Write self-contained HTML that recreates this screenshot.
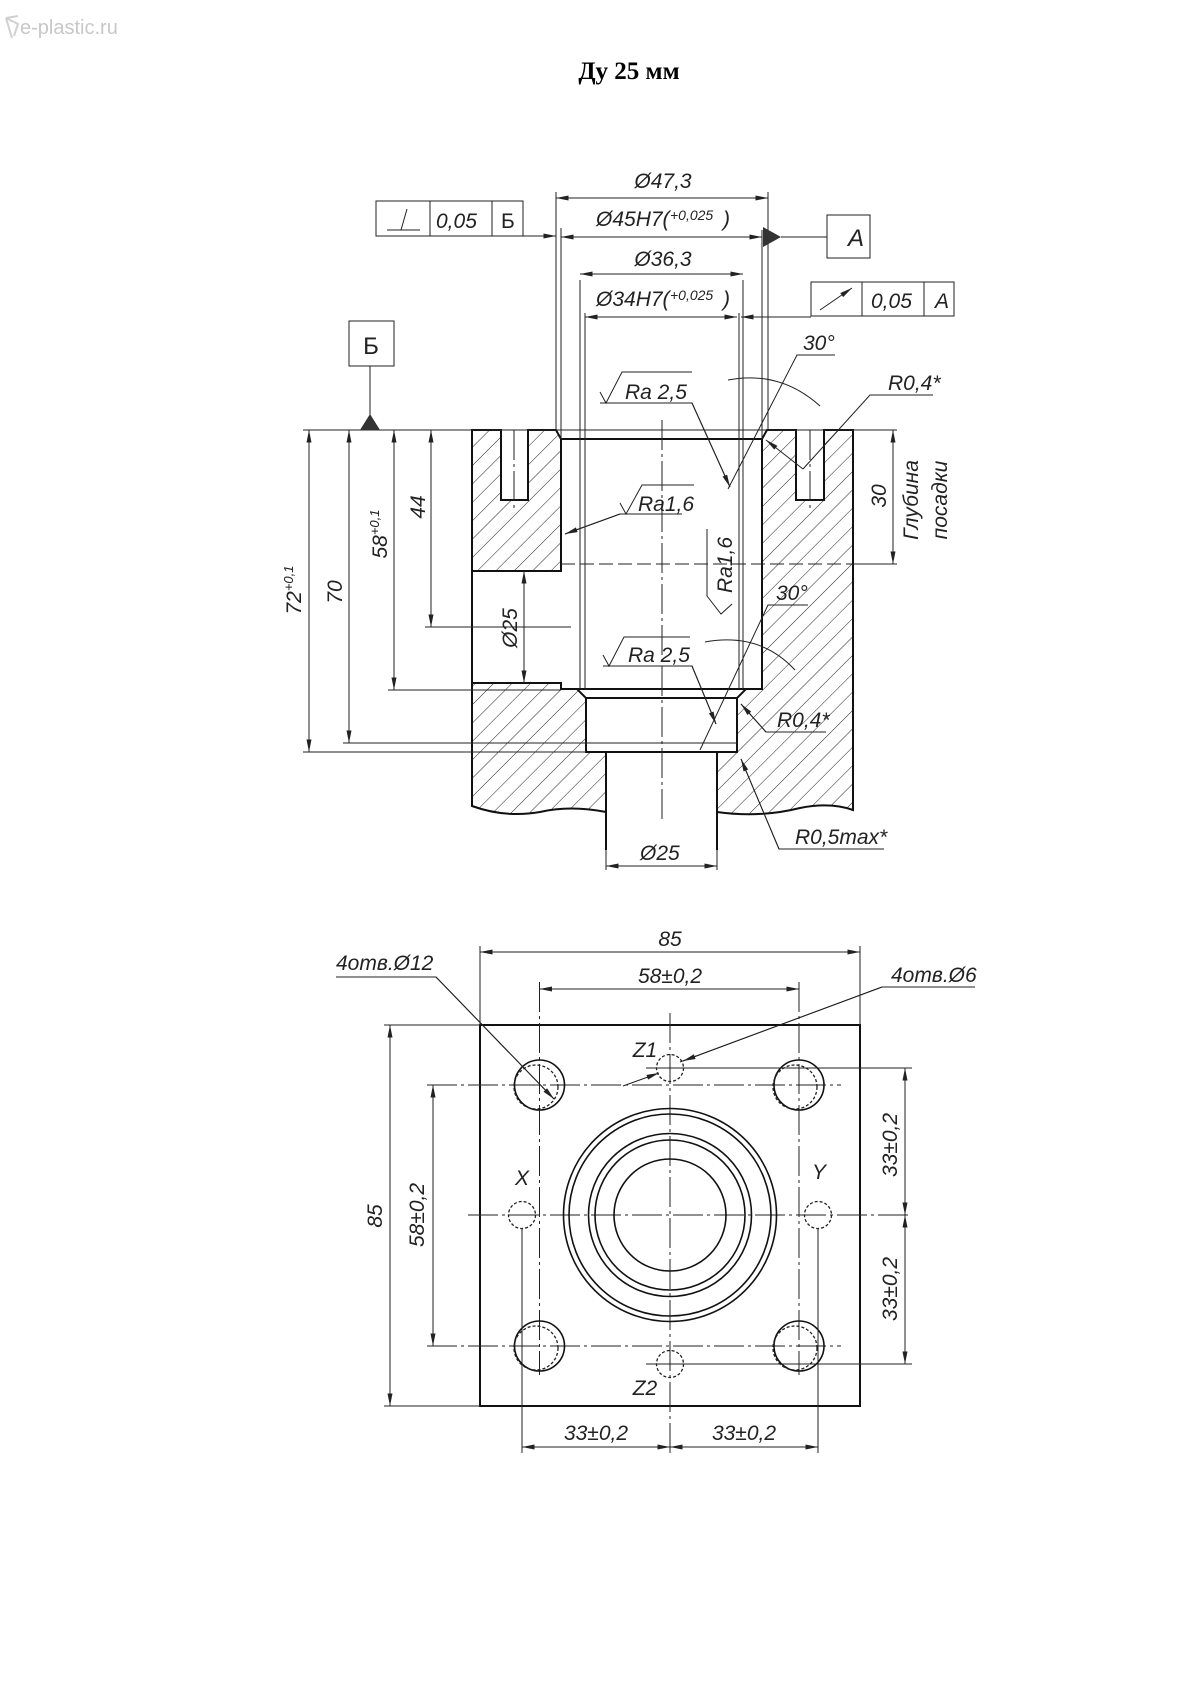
<!DOCTYPE html>
<html><head><meta charset="utf-8"><style>
html,body{margin:0;padding:0;background:#fff;}
svg{display:block}
text{font-family:"Liberation Sans","DejaVu Sans",sans-serif;font-style:italic;fill:#222;}
</style></head><body>
<svg width="1190" height="1683" viewBox="0 0 1190 1683" xmlns="http://www.w3.org/2000/svg">
<defs>
<pattern id="h" patternUnits="userSpaceOnUse" width="13" height="13" patternTransform="rotate(45)">
<line x1="0" y1="0" x2="0" y2="13" stroke="#222" stroke-width="1"/>
</pattern>
<marker id="a" viewBox="0 0 10 4" refX="10" refY="2" markerWidth="14" markerHeight="5" markerUnits="userSpaceOnUse" orient="auto-start-reverse">
<path d="M0,0 L10,2 L0,4 Z" fill="#222"/>
</marker>
</defs>
<text x="20" y="34" style="font-style:normal;font-size:20px;fill:#c8c8c8">e-plastic.ru</text>
<path d="M6,18 L18,24 L14,36 M6,18 L12,38 M18,16 L6,18" stroke="#d0d0d0" fill="none" stroke-width="2"/>
<text x="629" y="79" text-anchor="middle" style="font-family:'Liberation Serif',serif;font-style:normal;font-weight:bold;font-size:25px;fill:#000">Ду 25 мм</text>

<g stroke="#222" fill="none" stroke-width="1">
<g fill="url(#h)" stroke="#111" stroke-width="2">
<path d="M472,430 L501,430 L501,500 L528,500 L528,430 L556,430 L561,439 L561,571 L472,571 Z"/>
<path d="M472,683 L561,683 L561,689 L577,689 L586,698 L586,752 L606,752 L606,812 Q570,805 540,812 Q505,818 472,806 Z"/>
<path d="M767,430 L762,439 L762,689 L746,689 L737,698 L737,752 L717,752 L717,812 Q760,818 800,808 Q830,802 853,810 L853,430 L824,430 L824,500 L796,500 L796,430 Z"/>
</g>
<g stroke="#111" stroke-width="2">
<line x1="561" y1="439" x2="762" y2="439"/>
<line x1="561" y1="689" x2="762" y2="689"/>
<line x1="586" y1="698" x2="737" y2="698"/>
<line x1="586" y1="752" x2="737" y2="752"/>
<line x1="472" y1="571" x2="472" y2="683"/>
<line x1="606" y1="752" x2="606" y2="850"/>
<line x1="717" y1="752" x2="717" y2="850"/>
</g>
<line x1="580" y1="280" x2="580" y2="689"/>
<line x1="743" y1="280" x2="743" y2="689"/>
<line x1="585" y1="313" x2="585" y2="689"/>
<line x1="739" y1="313" x2="739" y2="689"/>
<line x1="556" y1="192" x2="556" y2="430"/>
<line x1="561" y1="228" x2="561" y2="439"/>
<line x1="762" y1="230" x2="762" y2="439"/>
<line x1="768" y1="192" x2="768" y2="430"/>
<line x1="662" y1="420" x2="662" y2="820" stroke-dasharray="30,4,3,4"/>
<line x1="514" y1="430" x2="514" y2="510" stroke-dasharray="30,4,3,4"/>
<line x1="810" y1="430" x2="810" y2="510" stroke-dasharray="30,4,3,4"/>
<line x1="561" y1="564" x2="897" y2="564" stroke-dasharray="14,5"/>
<line x1="425" y1="627" x2="571" y2="627"/>
<line x1="303" y1="430" x2="897" y2="430"/>
<line x1="303" y1="752" x2="586" y2="752"/>
<line x1="343" y1="743" x2="737" y2="743"/>
<line x1="388" y1="690" x2="561" y2="690"/>
<line x1="853" y1="564" x2="897" y2="564"/>
<line x1="309" y1="430" x2="309" y2="752" marker-start="url(#a)" marker-end="url(#a)"/>
<line x1="349" y1="430" x2="349" y2="743" marker-start="url(#a)" marker-end="url(#a)"/>
<line x1="394" y1="430" x2="394" y2="690" marker-start="url(#a)" marker-end="url(#a)"/>
<line x1="431" y1="430" x2="431" y2="627" marker-start="url(#a)" marker-end="url(#a)"/>
<line x1="524" y1="571" x2="524" y2="683" marker-start="url(#a)" marker-end="url(#a)"/>
<line x1="893" y1="430" x2="893" y2="564" marker-start="url(#a)" marker-end="url(#a)"/>
<line x1="556" y1="198" x2="768" y2="198" marker-start="url(#a)" marker-end="url(#a)"/>
<line x1="561" y1="237" x2="762" y2="237" marker-start="url(#a)" marker-end="url(#a)"/>
<line x1="580" y1="274" x2="743" y2="274" marker-start="url(#a)" marker-end="url(#a)"/>
<line x1="585" y1="317" x2="737" y2="317" marker-start="url(#a)" marker-end="url(#a)"/>
<line x1="523" y1="236" x2="556" y2="236" marker-end="url(#a)"/>
<line x1="811" y1="317" x2="741" y2="317" marker-end="url(#a)"/>
<rect x="376" y="201" width="147" height="35"/>
<line x1="430" y1="201" x2="430" y2="236"/><line x1="492" y1="201" x2="492" y2="236"/>
<line x1="387" y1="230" x2="420" y2="230"/><line x1="407" y1="209" x2="401" y2="230"/>
<rect x="827" y="215" width="43" height="43"/>
<line x1="781" y1="237" x2="827" y2="237"/>
<rect x="811" y="282" width="143" height="34"/>
<line x1="862" y1="282" x2="862" y2="316"/><line x1="924" y1="282" x2="924" y2="316"/>
<line x1="820" y1="310" x2="852" y2="288" marker-end="url(#a)"/>
<rect x="349" y="321" width="45" height="45"/>
<line x1="370" y1="366" x2="370" y2="418"/>
<polyline points="600,403 692,403 730,487" />
<line x1="692" y1="403" x2="730" y2="487" marker-end="url(#a)"/>
<polyline points="682,514 620,514 565,534"/>
<line x1="620" y1="514" x2="565" y2="534" marker-end="url(#a)"/>
<polyline points="603,666 692,666 716,724"/>
<line x1="692" y1="666" x2="716" y2="724" marker-end="url(#a)"/>
<polyline points="835,355 797,355 728,489"/>
<polyline points="933,395 870,395 803,469"/>
<line x1="803" y1="469" x2="766" y2="440" marker-end="url(#a)"/>
<polyline points="808,605 768,605 700,750"/>
<polyline points="826,732 766,732 741,704"/>
<line x1="766" y1="732" x2="741" y2="704" marker-end="url(#a)"/>
<polyline points="884,849 779,849 741,759"/>
<line x1="779" y1="849" x2="741" y2="759" marker-end="url(#a)"/>
<path d="M728,380 Q780,370 820,406" />
<path d="M705,642 Q760,632 795,670" />
<polyline points="600,392 606,403 622,372 692,372"/>
<polyline points="620,503 626,514 642,485 694,485"/>
<polyline points="603,655 609,666 624,637 690,637"/>
<polyline points="707,529 707,596 721,614 732,604"/>
<line x1="606" y1="850" x2="606" y2="870"/><line x1="717" y1="850" x2="717" y2="870"/>
<line x1="606" y1="866" x2="717" y2="866" marker-start="url(#a)" marker-end="url(#a)"/>
</g>
<path d="M763,237 L781,237 L763,227 Z M763,237 L781,237 L763,247 Z" fill="#333"/>
<path d="M360,430 L380,430 L370,414 Z" fill="#333"/>

<g style="font-size:21px">
<text x="663" y="188" text-anchor="middle">Ø47,3</text>
<text x="596" y="226">Ø45H7(</text><text x="670" y="220" style="font-size:14px">+0,025</text><text x="723" y="226">)</text>
<text x="663" y="266" text-anchor="middle">Ø36,3</text>
<text x="596" y="306">Ø34H7(</text><text x="670" y="300" style="font-size:14px">+0,025</text><text x="723" y="306">)</text>
<text x="436" y="228">0,05</text><text x="501" y="228" style="font-style:normal">Б</text>
<text x="848" y="246" style="font-size:24px">A</text>
<text x="871" y="308">0,05</text><text x="935" y="308">A</text>
<text x="371" y="354" text-anchor="middle" style="font-style:normal;font-size:24px">Б</text>
<text x="625" y="399">Ra 2,5</text>
<text x="638" y="511">Ra1,6</text>
<text x="628" y="662">Ra 2,5</text>
<text x="803" y="350">30°</text>
<text x="776" y="600">30°</text>
<text x="888" y="390">R0,4*</text>
<text x="777" y="727">R0,4*</text>
<text x="795" y="844">R0,5max*</text>
<text x="640" y="860">Ø25</text>
<text transform="translate(301,590) rotate(-90)" text-anchor="middle">72<tspan dy="-8" font-size="13">+0,1</tspan></text>
<text transform="translate(342,592) rotate(-90)" text-anchor="middle">70</text>
<text transform="translate(387,534) rotate(-90)" text-anchor="middle">58<tspan dy="-8" font-size="13">+0,1</tspan></text>
<text transform="translate(425,507) rotate(-90)" text-anchor="middle">44</text>
<text transform="translate(517,628) rotate(-90)" text-anchor="middle">Ø25</text>
<text transform="translate(732,565) rotate(-90)" text-anchor="middle">Ra1,6</text>
<text transform="translate(886,496) rotate(-90)" text-anchor="middle">30</text>
<text transform="translate(918,500) rotate(-90)" text-anchor="middle">Глубина</text>
<text transform="translate(947,500) rotate(-90)" text-anchor="middle">посадки</text>
</g>

<g stroke="#222" fill="none" stroke-width="1">
<rect x="480" y="1025" width="380" height="381" stroke-width="2" stroke="#111"/>
<g stroke-dasharray="30,4,3,4">
<line x1="670" y1="1013" x2="670" y2="1453"/>
<line x1="468" y1="1215" x2="912" y2="1215"/>
<line x1="427" y1="1085" x2="841" y2="1085"/>
<line x1="427" y1="1346" x2="841" y2="1346"/>
<line x1="539.5" y1="982" x2="539.5" y2="1375"/>
<line x1="799" y1="982" x2="799" y2="1375"/>
</g>
<g stroke-width="1.6" stroke="#111">
<circle cx="670" cy="1215" r="106.5"/><circle cx="670" cy="1215" r="101"/>
<circle cx="670" cy="1215" r="81.5"/><circle cx="670" cy="1215" r="75"/>
<circle cx="670" cy="1215" r="56"/>
<circle cx="539.5" cy="1085" r="25"/><circle cx="799" cy="1085" r="25"/>
<circle cx="539.5" cy="1346" r="25"/><circle cx="799" cy="1346" r="25"/>
</g>
<g stroke-dasharray="3,2" stroke-width="1.3">
<circle cx="536" cy="1087" r="22"/><circle cx="795" cy="1087" r="22"/>
<circle cx="536" cy="1348" r="22"/><circle cx="795" cy="1348" r="22"/>
<circle cx="670" cy="1068" r="13.5"/><circle cx="670" cy="1364" r="13.5"/>
<circle cx="522" cy="1215" r="13.5"/><circle cx="818" cy="1215" r="13.5"/>
</g>
<line x1="480" y1="946" x2="480" y2="1025"/><line x1="860" y1="946" x2="860" y2="1025"/>
<line x1="480" y1="952" x2="860" y2="952" marker-start="url(#a)" marker-end="url(#a)"/>
<line x1="539.5" y1="989" x2="799" y2="989" marker-start="url(#a)" marker-end="url(#a)"/>
<line x1="384" y1="1025" x2="480" y2="1025"/><line x1="384" y1="1406" x2="480" y2="1406"/>
<line x1="390" y1="1025" x2="390" y2="1406" marker-start="url(#a)" marker-end="url(#a)"/>
<line x1="433" y1="1085" x2="433" y2="1346" marker-start="url(#a)" marker-end="url(#a)"/>
<line x1="646" y1="1068" x2="912" y2="1068"/><line x1="646" y1="1364" x2="912" y2="1364"/>
<line x1="905" y1="1068" x2="905" y2="1215" marker-start="url(#a)" marker-end="url(#a)"/>
<line x1="905" y1="1215" x2="905" y2="1364" marker-start="url(#a)" marker-end="url(#a)"/>
<line x1="522" y1="1228" x2="522" y2="1453"/><line x1="818" y1="1228" x2="818" y2="1453"/>
<line x1="522" y1="1447" x2="670" y2="1447" marker-start="url(#a)" marker-end="url(#a)"/>
<line x1="670" y1="1447" x2="818" y2="1447" marker-start="url(#a)" marker-end="url(#a)"/>
<polyline points="336,977 436,977 554,1099"/>
<line x1="436" y1="977" x2="554" y2="1099" marker-end="url(#a)"/>
<polyline points="975,987 882,987 680,1062"/>
<line x1="882" y1="987" x2="683" y2="1061" marker-end="url(#a)"/>
<line x1="623" y1="1086" x2="659" y2="1073" marker-end="url(#a)"/>
</g>
<g style="font-size:21px">
<text x="670" y="946" text-anchor="middle">85</text>
<text x="670" y="983" text-anchor="middle">58±0,2</text>
<text x="336" y="970">4отв.Ø12</text>
<text x="891" y="982">4отв.Ø6</text>
<text x="645" y="1057" text-anchor="middle">Z1</text>
<text x="645" y="1395" text-anchor="middle">Z2</text>
<text x="522" y="1185" text-anchor="middle">X</text>
<text x="819" y="1179" text-anchor="middle">Y</text>
<text x="596" y="1440" text-anchor="middle">33±0,2</text>
<text x="744" y="1440" text-anchor="middle">33±0,2</text>
<text transform="translate(382,1216) rotate(-90)" text-anchor="middle">85</text>
<text transform="translate(424,1215) rotate(-90)" text-anchor="middle">58±0,2</text>
<text transform="translate(897,1145) rotate(-90)" text-anchor="middle">33±0,2</text>
<text transform="translate(897,1289) rotate(-90)" text-anchor="middle">33±0,2</text>
</g>
</svg>
</body></html>
